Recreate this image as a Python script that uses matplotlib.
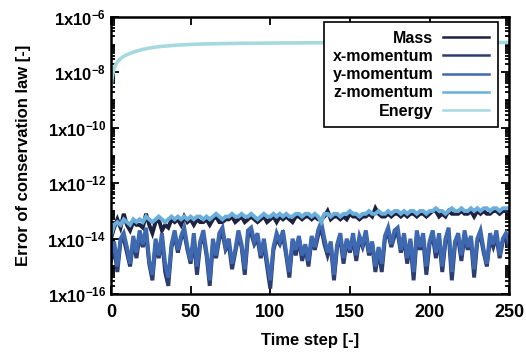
import numpy as np
import matplotlib
matplotlib.use('Agg')
import matplotlib.pyplot as plt
from matplotlib.ticker import LogLocator, FixedLocator, FuncFormatter, NullFormatter

plt.rcParams['font.family'] = ['Liberation Sans', 'DejaVu Sans']
plt.rcParams['font.weight'] = 'bold'
plt.rcParams['mathtext.fontset'] = 'custom'
plt.rcParams['mathtext.rm'] = 'Liberation Sans:bold'
plt.rcParams['mathtext.default'] = 'rm'

# time steps for the noisy series (every 2nd step)
steps = np.arange(0, 251, 2)

# log10 of the error
mass_log = [-14.0, -13.6, -13.3, -13.6, -13.1, -13.5, -13.7, -13.4, -13.5, -13.5,
            -13.6, -13.1, -13.5, -13.8, -13.4, -13.3, -13.7, -13.5, -13.6, -13.3,
            -13.4, -13.3, -13.5, -13.2, -13.4, -13.3, -13.5, -13.3, -13.4, -13.4,
            -13.3, -13.5, -13.3, -13.2, -13.4, -13.4, -13.3, -13.3, -13.2, -13.4,
            -13.3, -13.2, -13.4, -13.3, -13.2, -13.3, -13.4, -13.3, -13.2, -13.4,
            -13.3, -13.2, -13.4, -13.2, -13.3, -13.2, -13.3, -13.4, -13.2, -13.2,
            -13.3, -13.2, -13.2, -13.3, -13.2, -13.3, -13.3, -13.2, -13.0, -13.3,
            -13.2, -13.2, -13.3, -13.2, -13.3, -13.1, -13.2, -13.2, -13.3, -13.2,
            -13.2, -13.1, -13.2, -12.9, -13.1, -13.2, -13.2, -13.1, -13.2, -13.1,
            -13.1, -13.2, -13.1, -13.2, -13.1, -13.1, -13.2, -13.1, -13.1, -13.2,
            -13.1, -13.0, -13.0, -13.2, -13.1, -13.2, -13.0, -13.1, -13.1, -13.1,
            -13.0, -13.1, -13.1, -13.0, -13.2, -13.0, -13.1, -13.0, -13.1, -13.1,
            -13.0, -13.0, -13.1, -13.0, -13.0, -13.0]

xmom_log = [-14.8, -14.3, -15.2, -14.1, -14.0, -14.5, -15.0, -14.1, -14.7, -13.9,
            -14.3, -13.8, -14.9, -15.5, -14.2, -14.7, -14.0, -15.2, -15.7, -14.3,
            -13.9, -14.5, -14.0, -13.8, -14.4, -14.9, -14.0, -15.3, -14.2, -13.9,
            -14.6, -15.7, -14.2, -14.7, -14.0, -13.8, -14.4, -14.2, -15.1, -14.5,
            -13.9, -14.3, -15.3, -13.9, -13.8, -14.2, -14.0, -14.7, -14.2, -15.0,
            -15.8, -14.4, -14.0, -14.2, -13.9, -14.6, -15.4, -14.1, -14.6, -14.0,
            -14.8, -14.3, -15.0, -14.0, -14.4, -13.9, -13.6, -14.2, -14.6, -14.2,
            -15.5, -14.3, -14.0, -14.9, -14.1, -14.5, -14.0, -14.8, -14.0, -14.3,
            -13.9, -14.6, -14.2, -15.2, -14.4, -15.2, -14.0, -13.8, -14.3, -13.9,
            -13.8, -14.5, -14.0, -14.9, -14.1, -15.5, -13.9, -14.4, -14.0, -15.3,
            -14.2, -13.9, -14.7, -14.0, -15.2, -14.1, -13.8, -15.5, -14.2, -14.0,
            -14.8, -13.9, -14.4, -14.0, -15.4, -14.1, -13.9, -14.5, -15.0, -14.0,
            -14.3, -13.9, -14.7, -14.1, -14.0, -14.3]

ymom_log = [-14.6, -14.1, -15.0, -14.0, -13.8, -14.3, -14.9, -13.9, -14.5, -13.7,
            -14.2, -13.6, -14.8, -15.3, -14.0, -14.6, -13.8, -14.9, -15.4, -14.2,
            -13.7, -14.4, -13.9, -13.6, -14.3, -14.8, -13.8, -15.0, -14.1, -13.7,
            -14.5, -15.5, -14.0, -14.6, -13.8, -13.6, -14.3, -14.0, -14.9, -14.4,
            -13.7, -14.2, -15.1, -13.7, -13.6, -14.1, -13.8, -14.6, -14.0, -14.8,
            -15.5, -14.3, -13.8, -14.1, -13.7, -14.5, -15.2, -14.0, -14.4, -13.9,
            -14.6, -14.2, -14.8, -13.9, -14.3, -13.7, -13.4, -14.0, -14.5, -14.1,
            -15.3, -14.2, -13.8, -14.7, -14.0, -14.4, -13.8, -14.6, -13.9, -14.2,
            -13.7, -14.5, -14.1, -15.0, -14.3, -14.9, -13.9, -13.6, -14.2, -13.7,
            -13.6, -14.4, -13.8, -14.7, -14.0, -15.2, -13.7, -14.3, -13.8, -15.0,
            -14.1, -13.7, -14.5, -13.8, -15.0, -14.0, -13.6, -15.2, -14.1, -13.8,
            -14.6, -13.7, -14.3, -13.9, -15.1, -14.0, -13.7, -14.4, -14.9, -13.8,
            -14.2, -13.7, -14.6, -14.0, -13.8, -14.1]

zmom_log = [-13.9, -13.5, -13.4, -13.5, -13.3, -13.4, -13.5, -13.3, -13.4, -13.3,
            -13.4, -13.2, -13.3, -13.4, -13.3, -13.2, -13.3, -13.4, -13.3, -13.2,
            -13.3, -13.2, -13.3, -13.2, -13.3, -13.2, -13.3, -13.2, -13.2, -13.3,
            -13.2, -13.3, -13.2, -13.1, -13.2, -13.3, -13.2, -13.2, -13.1, -13.2,
            -13.2, -13.1, -13.2, -13.2, -13.1, -13.2, -13.3, -13.2, -13.1, -13.2,
            -13.2, -13.1, -13.2, -13.1, -13.2, -13.1, -13.2, -13.2, -13.1, -13.1,
            -13.2, -13.1, -13.1, -13.2, -13.1, -13.2, -13.4, -13.1, -13.1, -13.2,
            -13.1, -13.1, -13.2, -13.1, -13.1, -13.0, -13.1, -13.1, -13.2, -13.1,
            -13.1, -13.0, -13.1, -13.1, -13.0, -13.1, -13.1, -13.0, -13.1, -13.0,
            -13.0, -13.1, -13.0, -13.1, -13.0, -13.0, -13.1, -13.0, -13.0, -13.1,
            -13.0, -13.0, -12.9, -13.0, -13.0, -13.1, -13.0, -12.9, -13.0, -13.0,
            -12.9, -13.0, -13.0, -12.9, -13.0, -12.9, -13.0, -12.9, -12.9, -13.0,
            -12.9, -12.9, -13.0, -12.9, -12.9, -12.9]

energy_steps = [0, 1, 2, 3, 4, 6, 8, 10, 13, 16, 20, 25, 30, 40, 50, 60, 80, 100, 130, 160, 200, 250]
energy_log = [-8.5, -8.1, -7.85, -7.72, -7.62, -7.5, -7.42, -7.36, -7.29, -7.23, -7.17,
              -7.11, -7.07, -7.02, -6.99, -6.97, -6.95, -6.94, -6.93, -6.93, -6.92, -6.92]

labels = ['Mass', 'x-momentum', 'y-momentum', 'z-momentum', 'Energy']
colors = ['#1e2140', '#2d3d72', '#3e68b0', '#6aaedb', '#a6d9df']

fig = plt.figure(figsize=(5.26, 3.54), dpi=100)
ax = fig.add_axes([0.211, 0.169, 0.757, 0.783])

series = [mass_log, xmom_log, ymom_log, zmom_log]
for s, lab, c in zip(series, labels[:4], colors[:4]):
    ax.plot(steps, 10.0 ** np.array(s), color=c, lw=2.8, label=lab, solid_joinstyle='miter')
ax.plot(energy_steps, 10.0 ** np.array(energy_log), color=colors[4], lw=2.6, label=labels[4])

ax.set_yscale('log')
ax.set_xlim(0, 250)
ax.set_ylim(1e-16, 1e-6)
ax.set_xticks([0, 50, 100, 150, 200, 250])
ax.yaxis.set_major_locator(FixedLocator([1e-16, 1e-14, 1e-12, 1e-10, 1e-8, 1e-6]))
ax.yaxis.set_major_formatter(FuncFormatter(lambda v, p: r'1x10$^{%d}$' % round(np.log10(v))))
ax.yaxis.set_minor_locator(LogLocator(base=10, subs=np.arange(1, 10), numticks=50))
ax.yaxis.set_minor_formatter(NullFormatter())

ax.tick_params(which='both', direction='in', top=True, right=True, width=1.3)
ax.tick_params(axis='x', labelsize=13)
ax.tick_params(axis='y', labelsize=12)
ax.tick_params(which='major', length=6)
ax.tick_params(which='minor', length=3)
ax.tick_params(axis='x', pad=7)
for sp in ax.spines.values():
    sp.set_linewidth(1.8)

ax.set_xlabel('Time step [-]', fontsize=12, fontweight='bold', labelpad=9)
ax.set_ylabel('Error of conservation law [-]', fontsize=12, fontweight='bold', labelpad=12)

leg = ax.legend(loc='upper right', markerfirst=False, fancybox=False, frameon=True,
                edgecolor='black', fontsize=11.5, handlelength=2.9, labelspacing=0.2,
                borderpad=0.55, handletextpad=0.6, borderaxespad=0,
                bbox_to_anchor=(0.972, 0.982))
leg.get_frame().set_linewidth(1.2)
leg.get_frame().set_alpha(1.0)
for h in leg.get_lines():
    h.set_linewidth(1.8)

plt.savefig('out.png', dpi=100)
